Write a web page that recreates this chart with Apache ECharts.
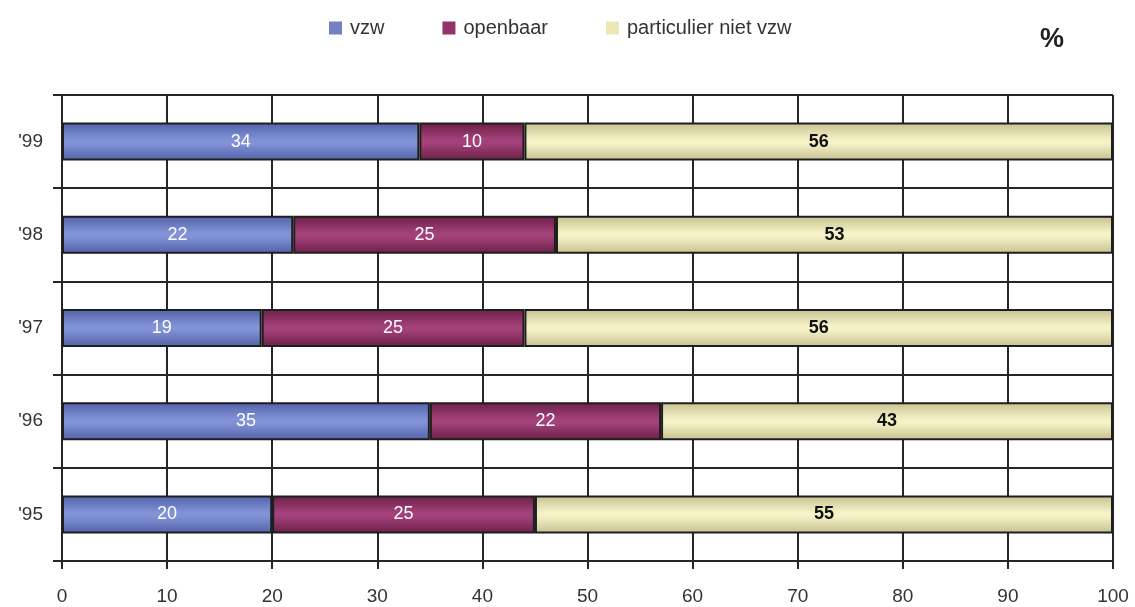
<!DOCTYPE html>
<html>
<head>
<meta charset="utf-8">
<script src="https://cdn.jsdelivr.net/npm/echarts@6/dist/echarts.min.js"></script>
<style>
  html, body { margin: 0; padding: 0; background: #ffffff; }
  #chart { width: 1135px; height: 607px; }
</style>
</head>
<body>
<div id="chart"></div>
<script>
// Share of each type (%), per year
const years = ["'95", "'96", "'97", "'98", "'99"];
const vzw = [20, 35, 19, 22, 34];
const openbaar = [25, 22, 25, 25, 10];
const particulier = [55, 43, 56, 53, 56];
const xTicks = [0, 10, 20, 30, 40, 50, 60, 70, 80, 90, 100];

const FONT = "'Liberation Sans', Arial, sans-serif";
const LINE = '#262626';

// vertical shading: darker at the bar edges, lighter through the middle
function shade(edge, mid) {
  return new echarts.graphic.LinearGradient(0, 0, 0, 1, [
    { offset: 0, color: edge },
    { offset: 0.45, color: mid },
    { offset: 0.55, color: mid },
    { offset: 1, color: edge }
  ]);
}

function series(name, data, edge, mid, labelColor, bold) {
  return {
    name: name,
    type: 'bar',
    stack: 'total',
    data: data,
    barWidth: 38,
    itemStyle: {
      color: shade(edge, mid),
      borderColor: '#1e1e1e',
      borderWidth: 2
    },
    label: {
      show: true,
      position: 'inside',
      color: labelColor,
      fontFamily: FONT,
      fontSize: 18,
      fontWeight: bold ? 'bold' : 'normal'
    },
    emphasis: { disabled: true },
    z: 3
  };
}

const chart = echarts.init(document.getElementById('chart'), null, { renderer: 'canvas' });
chart.setOption({
  animation: false,
  backgroundColor: '#ffffff',
  grid: { left: 62, right: 22, top: 95, bottom: 46, containLabel: false },
  legend: {
    left: 324,
    top: 13,
    icon: 'rect',
    itemWidth: 13,
    itemHeight: 13,
    itemGap: 58,
    textStyle: { fontFamily: FONT, fontSize: 20, color: '#333333', padding: [0, 0, 0, 3] },
    data: [
      { name: 'vzw', itemStyle: { color: '#7480c4', borderWidth: 0 } },
      { name: 'openbaar', itemStyle: { color: '#94336a', borderWidth: 0 } },
      { name: 'particulier niet vzw', itemStyle: { color: '#ece7b4', borderWidth: 0 } }
    ]
  },
  graphic: [{
    type: 'text',
    left: 1040,
    top: 26,
    style: { text: '%', font: 'bold 27px ' + FONT, fill: '#222222' }
  }],
  xAxis: {
    type: 'value',
    min: 0,
    max: 100,
    interval: 10,
    axisLine: { show: true, lineStyle: { color: LINE, width: 2 } },
    axisTick: { show: true, length: 8, lineStyle: { color: LINE, width: 2 } },
    axisLabel: {
      margin: 26,
      fontFamily: FONT,
      fontSize: 19,
      color: '#333333',
      customValues: xTicks
    },
    splitLine: { show: true, lineStyle: { color: LINE, width: 2 } }
  },
  yAxis: {
    type: 'category',
    data: years,
    axisLine: { show: true, lineStyle: { color: LINE, width: 2 } },
    axisTick: { show: true, length: 9, lineStyle: { color: LINE, width: 2 } },
    axisLabel: { margin: 19, fontFamily: FONT, fontSize: 19, color: '#333333' },
    splitLine: { show: true, lineStyle: { color: LINE, width: 2 } }
  },
  series: [
    series('vzw', vzw, '#5262aa', '#8292d6', '#ffffff', false),
    series('openbaar', openbaar, '#6b1f46', '#a3417a', '#ffffff', false),
    series('particulier niet vzw', particulier, '#c6c08e', '#f5f2c8', '#111111', true)
  ]
});
</script>
</body>
</html>
